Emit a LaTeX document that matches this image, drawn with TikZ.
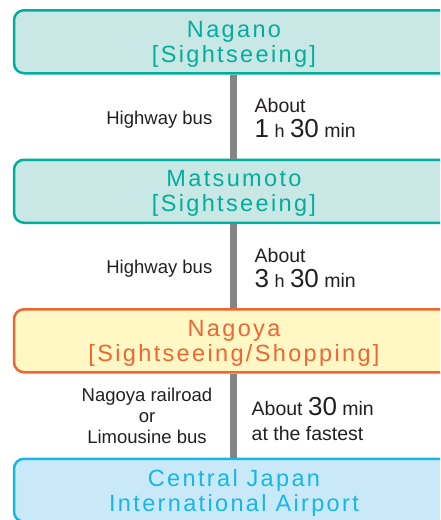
\documentclass[tikz,border=0pt]{standalone}
\usepackage{fontspec}
\setmainfont{Liberation Sans}
\newfontfamily\spotfont[LetterSpace=10]{Liberation Sans}
\usepackage{xcolor}
\usepackage{tikz}
\usetikzlibrary{positioning, calc}

\definecolor{tealline}{HTML}{00AE9D}
\definecolor{tealfill}{HTML}{C9E7E4}
\definecolor{orangeline}{HTML}{EE6633}
\definecolor{orangefill}{HTML}{FFF7C4}
\definecolor{blueline}{HTML}{14B7E8}
\definecolor{bluefill}{HTML}{C9E9F8}
\definecolor{linkgray}{HTML}{848484}
\definecolor{textdark}{HTML}{231F20}

\newcommand{\bignum}[1]{{\fontsize{26}{26}\selectfont #1}}
\newcommand{\smallunit}[1]{{\fontsize{18}{18}\selectfont #1}}

\begin{document}
\begin{tikzpicture}[
        x=1pt, y=-1pt,
        node distance=84pt,
        spot/.style={rectangle, rounded corners=10pt, line width=2.5pt, minimum width=440pt, minimum height=63pt, inner sep=0pt, text depth=0pt, align=center, font=\spotfont\fontsize{23.5}{25}\selectfont},
        sight/.style={spot, draw=tealline, fill=tealfill, text=tealline},
        shop/.style={spot, draw=orangeline, fill=orangefill, text=orangeline},
        airport/.style={spot, draw=blueline, fill=bluefill, text=blueline},
        link/.style={draw=linkgray, line width=7pt},
        how/.style={anchor=east, align=center, text=textdark, inner sep=0pt, font=\fontsize{18.5}{21}\selectfont},
        time/.style={anchor=west, align=left, text=textdark, inner sep=0pt, font=\fontsize{19.5}{25}\selectfont}
    ]
        \useasboundingbox (0,0) rectangle (440,520);
        \clip (0,0) rectangle (440,520);

        \node[sight] (nagano) at (234,41.75) {Nagano\\{[Sightseeing]}};
        \node[sight, below=of nagano] (matsumoto) {Matsumoto\\{[Sightseeing]}};
        \node[shop, below=of matsumoto] (nagoya) {Nagoya\\{[Sightseeing/Shopping]}};
        \node[airport, below=of nagoya] (centrair) {Central Japan\\International Airport};

        % Links
        \draw[link] (233.5,0 |- nagano.south) -- (233.5,0 |- matsumoto.north);
        \draw[link] (233.5,0 |- matsumoto.south) -- (233.5,0 |- nagoya.north);
        \draw[link] (233.5,0 |- nagoya.south) -- (233.5,0 |- centrair.north);

        % Means and times
        \coordinate (gapA) at ($(233.5,0 |- nagano.south)!0.5!(233.5,0 |- matsumoto.north)$);
        \coordinate (gapB) at ($(233.5,0 |- matsumoto.south)!0.5!(233.5,0 |- nagoya.north)$);
        \coordinate (gapC) at ($(233.5,0 |- nagoya.south)!0.5!(233.5,0 |- centrair.north)$);

        \node[how] (busA) at ($(gapA)+(-21,3)$) {Highway bus};
        \node[time] (timeA) at ($(gapA)+(21,2)$) {About\\\bignum{1} \smallunit{h} \bignum{30} min};
        \node[how] (busB) at ($(gapB)+(-21,3)$) {Highway bus};
        \node[time] (timeB) at ($(gapB)+(21,2)$) {About\\\bignum{3} \smallunit{h} \bignum{30} min};
        \node[how] (trainC) at ($(gapC)+(-21,0)$) {Nagoya railroad\\or\\Limousine bus};
        \node[time] (timeC) at ($(gapC)+(18,4)$) {About \bignum{30} min\\at the fastest};

    \end{tikzpicture}
\end{document}
